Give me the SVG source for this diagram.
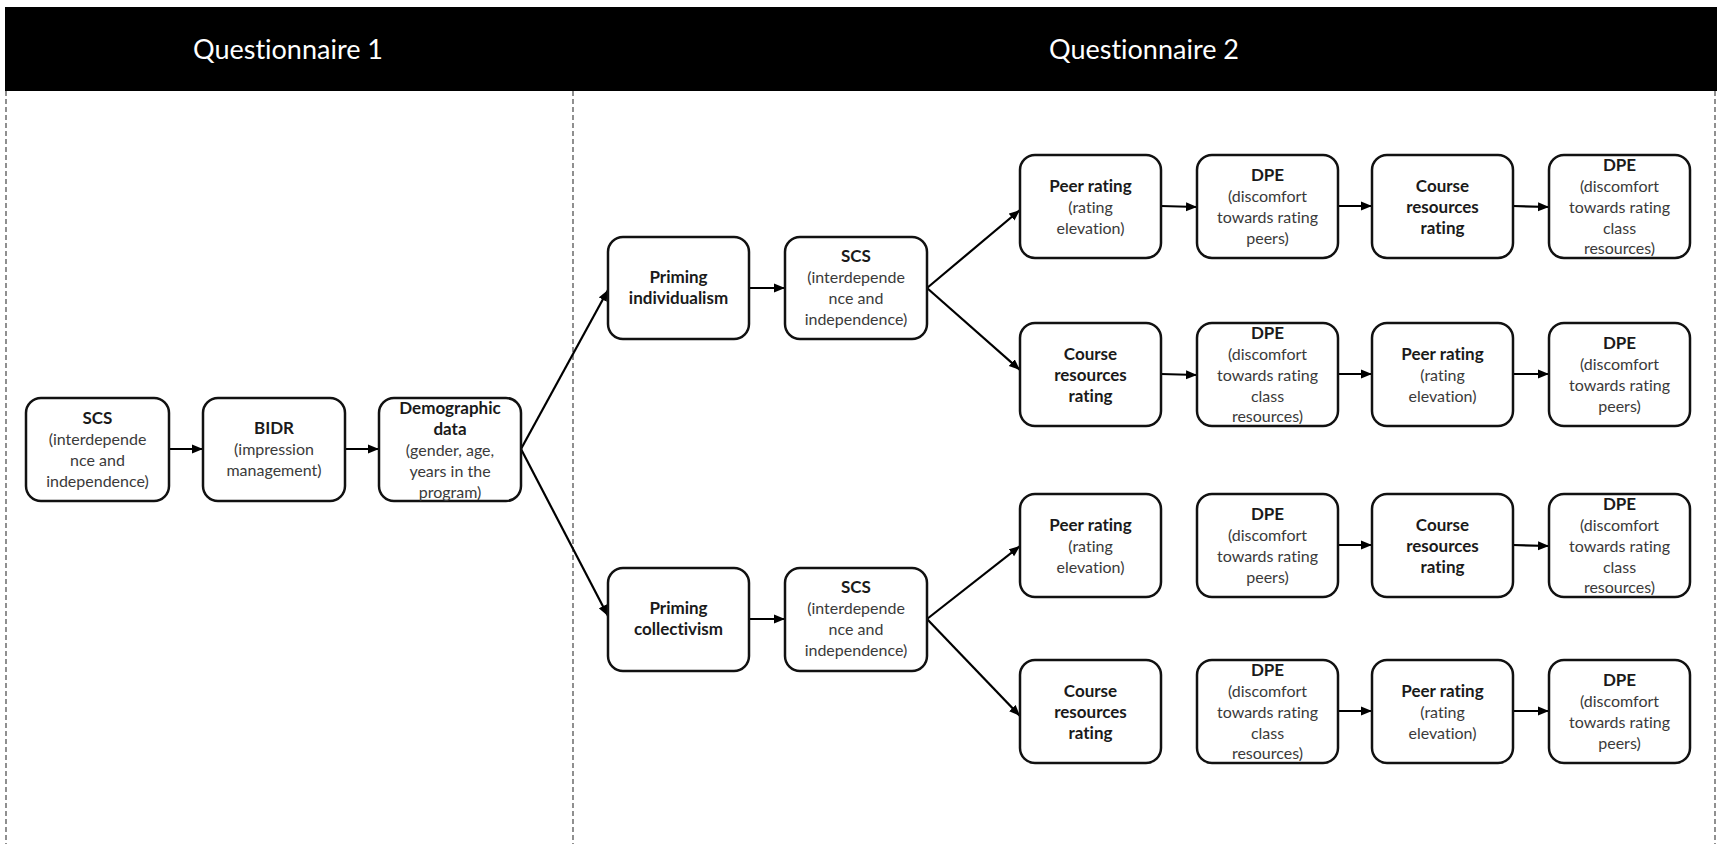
<svg xmlns="http://www.w3.org/2000/svg" width="1717" height="844" viewBox="0 0 1717 844">
  <style>
    .box { fill: #ffffff; stroke: #111111; stroke-width: 2.5; }
    .t { font-family: Lato, "Liberation Sans", sans-serif; text-anchor: middle; font-variant-ligatures: none; }
    .h { font-weight: bold; font-size: 17px; fill: #1a1a1a; }
    .s { font-size: 16px; fill: #3a3a3a; }
    .head { font-family: Lato, "Liberation Sans", sans-serif; font-size: 27px; fill: #ffffff; text-anchor: middle; font-variant-ligatures: none; }
    .div { stroke: #555555; stroke-width: 1.3; stroke-dasharray: 5 3; fill: none; }
    .edge { stroke: #000000; stroke-width: 2.2; fill: none; marker-end: url(#arrow); }
  </style>
  <defs>
    <marker id="arrow" markerUnits="userSpaceOnUse" markerWidth="12" markerHeight="10" refX="11" refY="5" orient="auto">
      <path d="M0,0.5 L11,5 L0,9.5 z" fill="#000000"/>
    </marker>
  </defs>

  <rect width="1717" height="844" fill="#ffffff"/>

  <!-- header band -->
  <g id="header">
    <rect x="5" y="7" width="1712" height="84" fill="#000000"/>
    <text class="head" x="288" y="59">Questionnaire 1</text>
    <text class="head" x="1144" y="59">Questionnaire 2</text>
  </g>

  <!-- section dividers -->
  <g id="dividers">
    <line class="div" x1="6" y1="91" x2="6" y2="844"/>
    <line class="div" x1="573" y1="91" x2="573" y2="844"/>
    <line class="div" x1="1715" y1="91" x2="1715" y2="844"/>
  </g>

  <!-- connectors -->
  <g id="connectors">
    <line class="edge" x1="169" y1="449" x2="203" y2="449"/>
    <line class="edge" x1="345" y1="449" x2="379" y2="449"/>
    <line class="edge" x1="521" y1="449" x2="608" y2="290"/>
    <line class="edge" x1="521" y1="449" x2="608" y2="616"/>
    <line class="edge" x1="749" y1="288" x2="785" y2="288"/>
    <line class="edge" x1="749" y1="619" x2="785" y2="619"/>
    <line class="edge" x1="927" y1="288" x2="1020" y2="210"/>
    <line class="edge" x1="927" y1="288" x2="1020" y2="370"/>
    <line class="edge" x1="927" y1="619" x2="1020" y2="546"/>
    <line class="edge" x1="927" y1="619" x2="1020" y2="716"/>
    <!-- row 1 -->
    <line class="edge" x1="1161" y1="206" x2="1197" y2="207"/>
    <line class="edge" x1="1338" y1="206" x2="1372" y2="206"/>
    <line class="edge" x1="1513" y1="206" x2="1549" y2="207"/>
    <!-- row 2 -->
    <line class="edge" x1="1161" y1="374" x2="1197" y2="375"/>
    <line class="edge" x1="1338" y1="374" x2="1372" y2="374"/>
    <line class="edge" x1="1513" y1="374" x2="1549" y2="374"/>
    <!-- row 3 -->
    <line class="edge" x1="1338" y1="545" x2="1372" y2="545"/>
    <line class="edge" x1="1513" y1="545" x2="1549" y2="546"/>
    <!-- row 4 -->
    <line class="edge" x1="1338" y1="711" x2="1372" y2="711"/>
    <line class="edge" x1="1513" y1="711" x2="1549" y2="711"/>
  </g>

  <!-- questionnaire 1 -->
  <g id="q1-scs">
    <rect class="box" x="26" y="398" width="143" height="103" rx="15"/>
    <text class="t" x="97.5"><tspan class="h" y="424">SCS</tspan><tspan class="s" x="97.5" y="445">(interdepende</tspan><tspan class="s" x="97.5" y="466">nce and</tspan><tspan class="s" x="97.5" y="487">independence)</tspan></text>
  </g>
  <g id="q1-bidr">
    <rect class="box" x="203" y="398" width="142" height="103" rx="15"/>
    <text class="t" x="274"><tspan class="h" y="434">BIDR</tspan><tspan class="s" x="274" y="455">(impression</tspan><tspan class="s" x="274" y="476">management)</tspan></text>
  </g>
  <g id="q1-demographic">
    <rect class="box" x="379" y="398" width="142" height="103" rx="15"/>
    <text class="t" x="450"><tspan class="h" y="414">Demographic</tspan><tspan class="h" x="450" y="435">data</tspan><tspan class="s" x="450" y="456">(gender, age,</tspan><tspan class="s" x="450" y="477">years in the</tspan><tspan class="s" x="450" y="498">program)</tspan></text>
  </g>

  <!-- questionnaire 2: priming and SCS -->
  <g id="q2-priming-individualism">
    <rect class="box" x="608" y="237" width="141" height="102" rx="15"/>
    <text class="t" x="678.5"><tspan class="h" y="283">Priming</tspan><tspan class="h" x="678.5" y="304">individualism</tspan></text>
  </g>
  <g id="q2-scs-individualism">
    <rect class="box" x="785" y="237" width="142" height="102" rx="15"/>
    <text class="t" x="856"><tspan class="h" y="262">SCS</tspan><tspan class="s" x="856" y="283">(interdepende</tspan><tspan class="s" x="856" y="304">nce and</tspan><tspan class="s" x="856" y="325">independence)</tspan></text>
  </g>
  <g id="q2-priming-collectivism">
    <rect class="box" x="608" y="568" width="141" height="103" rx="15"/>
    <text class="t" x="678.5"><tspan class="h" y="614">Priming</tspan><tspan class="h" x="678.5" y="635">collectivism</tspan></text>
  </g>
  <g id="q2-scs-collectivism">
    <rect class="box" x="785" y="568" width="142" height="103" rx="15"/>
    <text class="t" x="856"><tspan class="h" y="593">SCS</tspan><tspan class="s" x="856" y="614">(interdepende</tspan><tspan class="s" x="856" y="635">nce and</tspan><tspan class="s" x="856" y="656">independence)</tspan></text>
  </g>

  <!-- row 1 -->
  <g id="r1-peer">
    <rect class="box" x="1020" y="155" width="141" height="103" rx="15"/>
    <text class="t" x="1090.5"><tspan class="h" y="192">Peer rating</tspan><tspan class="s" x="1090.5" y="213">(rating</tspan><tspan class="s" x="1090.5" y="234">elevation)</tspan></text>
  </g>
  <g id="r1-dpe-peers">
    <rect class="box" x="1197" y="155" width="141" height="103" rx="15"/>
    <text class="t" x="1267.5"><tspan class="h" y="181">DPE</tspan><tspan class="s" x="1267.5" y="202">(discomfort</tspan><tspan class="s" x="1267.5" y="223">towards rating</tspan><tspan class="s" x="1267.5" y="244">peers)</tspan></text>
  </g>
  <g id="r1-course">
    <rect class="box" x="1372" y="155" width="141" height="103" rx="15"/>
    <text class="t" x="1442.5"><tspan class="h" y="192">Course</tspan><tspan class="h" x="1442.5" y="213">resources</tspan><tspan class="h" x="1442.5" y="234">rating</tspan></text>
  </g>
  <g id="r1-dpe-class">
    <rect class="box" x="1549" y="155" width="141" height="103" rx="15"/>
    <text class="t" x="1619.5"><tspan class="h" y="171">DPE</tspan><tspan class="s" x="1619.5" y="192">(discomfort</tspan><tspan class="s" x="1619.5" y="213">towards rating</tspan><tspan class="s" x="1619.5" y="234">class</tspan><tspan class="s" x="1619.5" y="254">resources)</tspan></text>
  </g>

  <!-- row 2 -->
  <g id="r2-course">
    <rect class="box" x="1020" y="323" width="141" height="103" rx="15"/>
    <text class="t" x="1090.5"><tspan class="h" y="360">Course</tspan><tspan class="h" x="1090.5" y="381">resources</tspan><tspan class="h" x="1090.5" y="402">rating</tspan></text>
  </g>
  <g id="r2-dpe-class">
    <rect class="box" x="1197" y="323" width="141" height="103" rx="15"/>
    <text class="t" x="1267.5"><tspan class="h" y="339">DPE</tspan><tspan class="s" x="1267.5" y="360">(discomfort</tspan><tspan class="s" x="1267.5" y="381">towards rating</tspan><tspan class="s" x="1267.5" y="402">class</tspan><tspan class="s" x="1267.5" y="422">resources)</tspan></text>
  </g>
  <g id="r2-peer">
    <rect class="box" x="1372" y="323" width="141" height="103" rx="15"/>
    <text class="t" x="1442.5"><tspan class="h" y="360">Peer rating</tspan><tspan class="s" x="1442.5" y="381">(rating</tspan><tspan class="s" x="1442.5" y="402">elevation)</tspan></text>
  </g>
  <g id="r2-dpe-peers">
    <rect class="box" x="1549" y="323" width="141" height="103" rx="15"/>
    <text class="t" x="1619.5"><tspan class="h" y="349">DPE</tspan><tspan class="s" x="1619.5" y="370">(discomfort</tspan><tspan class="s" x="1619.5" y="391">towards rating</tspan><tspan class="s" x="1619.5" y="412">peers)</tspan></text>
  </g>

  <!-- row 3 -->
  <g id="r3-peer">
    <rect class="box" x="1020" y="494" width="141" height="103" rx="15"/>
    <text class="t" x="1090.5"><tspan class="h" y="531">Peer rating</tspan><tspan class="s" x="1090.5" y="552">(rating</tspan><tspan class="s" x="1090.5" y="573">elevation)</tspan></text>
  </g>
  <g id="r3-dpe-peers">
    <rect class="box" x="1197" y="494" width="141" height="103" rx="15"/>
    <text class="t" x="1267.5"><tspan class="h" y="520">DPE</tspan><tspan class="s" x="1267.5" y="541">(discomfort</tspan><tspan class="s" x="1267.5" y="562">towards rating</tspan><tspan class="s" x="1267.5" y="583">peers)</tspan></text>
  </g>
  <g id="r3-course">
    <rect class="box" x="1372" y="494" width="141" height="103" rx="15"/>
    <text class="t" x="1442.5"><tspan class="h" y="531">Course</tspan><tspan class="h" x="1442.5" y="552">resources</tspan><tspan class="h" x="1442.5" y="573">rating</tspan></text>
  </g>
  <g id="r3-dpe-class">
    <rect class="box" x="1549" y="494" width="141" height="103" rx="15"/>
    <text class="t" x="1619.5"><tspan class="h" y="510">DPE</tspan><tspan class="s" x="1619.5" y="531">(discomfort</tspan><tspan class="s" x="1619.5" y="552">towards rating</tspan><tspan class="s" x="1619.5" y="573">class</tspan><tspan class="s" x="1619.5" y="593">resources)</tspan></text>
  </g>

  <!-- row 4 -->
  <g id="r4-course">
    <rect class="box" x="1020" y="660" width="141" height="103" rx="15"/>
    <text class="t" x="1090.5"><tspan class="h" y="697">Course</tspan><tspan class="h" x="1090.5" y="718">resources</tspan><tspan class="h" x="1090.5" y="739">rating</tspan></text>
  </g>
  <g id="r4-dpe-class">
    <rect class="box" x="1197" y="660" width="141" height="103" rx="15"/>
    <text class="t" x="1267.5"><tspan class="h" y="676">DPE</tspan><tspan class="s" x="1267.5" y="697">(discomfort</tspan><tspan class="s" x="1267.5" y="718">towards rating</tspan><tspan class="s" x="1267.5" y="739">class</tspan><tspan class="s" x="1267.5" y="759">resources)</tspan></text>
  </g>
  <g id="r4-peer">
    <rect class="box" x="1372" y="660" width="141" height="103" rx="15"/>
    <text class="t" x="1442.5"><tspan class="h" y="697">Peer rating</tspan><tspan class="s" x="1442.5" y="718">(rating</tspan><tspan class="s" x="1442.5" y="739">elevation)</tspan></text>
  </g>
  <g id="r4-dpe-peers">
    <rect class="box" x="1549" y="660" width="141" height="103" rx="15"/>
    <text class="t" x="1619.5"><tspan class="h" y="686">DPE</tspan><tspan class="s" x="1619.5" y="707">(discomfort</tspan><tspan class="s" x="1619.5" y="728">towards rating</tspan><tspan class="s" x="1619.5" y="749">peers)</tspan></text>
  </g>
</svg>
